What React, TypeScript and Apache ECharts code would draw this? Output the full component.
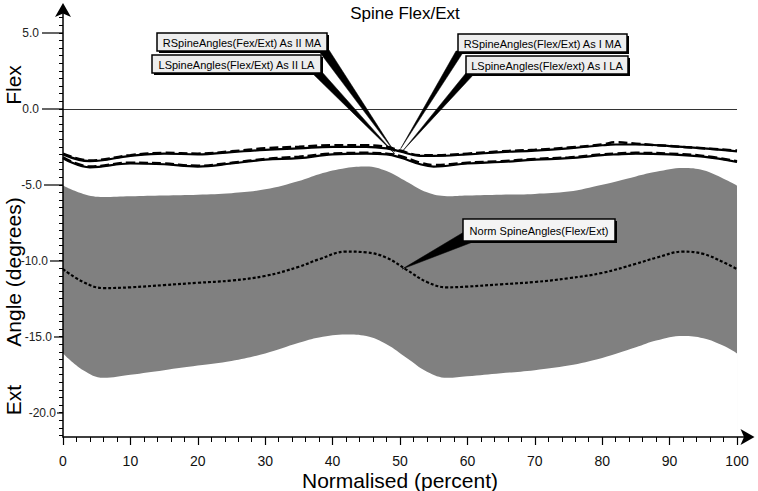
import React, { useEffect, useRef } from "react";
import * as echarts from "echarts";

// ---- Data ----
const normX = [0, 3, 6, 10, 15, 20, 25, 30, 35, 38, 42, 45, 48, 51, 54, 57, 60, 65, 70, 75, 80, 85, 88, 92, 95, 98, 100];
const normUpper = [-5.05, -5.6, -5.8, -5.75, -5.7, -5.65, -5.55, -5.3, -4.75, -4.3, -3.9, -3.8, -4.1, -4.8, -5.5, -5.75, -5.7, -5.65, -5.6, -5.45, -5.0, -4.45, -4.15, -3.9, -4.05, -4.6, -5.05];
const normLower = [-16.1, -17.2, -17.7, -17.5, -17.2, -16.9, -16.6, -16.1, -15.4, -15.05, -14.85, -14.95, -15.5, -16.4, -17.3, -17.7, -17.6, -17.4, -17.2, -16.9, -16.4, -15.7, -15.25, -14.95, -15.1, -15.6, -16.1];
const normMean = [-10.55, -11.4, -11.8, -11.75, -11.6, -11.45, -11.3, -11.0, -10.4, -9.9, -9.4, -9.45, -9.8, -10.6, -11.4, -11.75, -11.7, -11.55, -11.4, -11.15, -10.8, -10.2, -9.8, -9.4, -9.55, -10.1, -10.55];

const subjX = [0, 4, 10, 15, 20, 25, 30, 35, 40, 45, 48, 50, 53, 55, 60, 65, 70, 75, 80, 82, 85, 90, 95, 100];
const rIIMA = [-3.0, -3.45, -3.1, -2.95, -3.0, -2.85, -2.7, -2.6, -2.5, -2.5, -2.6, -2.8, -3.1, -3.1, -3.0, -2.85, -2.75, -2.6, -2.4, -2.35, -2.35, -2.45, -2.6, -2.8];
const rIMA = [-2.95, -3.4, -3.05, -2.9, -2.95, -2.8, -2.6, -2.5, -2.4, -2.4, -2.5, -2.75, -3.05, -3.05, -2.95, -2.8, -2.7, -2.55, -2.35, -2.2, -2.3, -2.45, -2.6, -2.75];
const lIILA = [-3.25, -3.85, -3.6, -3.65, -3.8, -3.6, -3.35, -3.25, -3.0, -2.95, -3.0, -3.2, -3.65, -3.8, -3.6, -3.5, -3.35, -3.25, -3.05, -3.0, -2.95, -3.0, -3.15, -3.5];
const lILA = [-3.2, -3.8, -3.55, -3.6, -3.75, -3.55, -3.3, -3.15, -2.95, -2.9, -2.95, -3.1, -3.55, -3.7, -3.55, -3.45, -3.3, -3.2, -3.0, -2.95, -2.9, -2.95, -3.1, -3.45];

const yMajorTicks = [5, 0, -5, -10, -15, -20];
const yMinorTicks = [6.5, 6, 5.5, 5, 4.5, 4, 3.5, 3, 2.5, 2, 1.5, 1, 0.5, 0, -0.5, -1, -1.5, -2, -2.5, -3, -3.5, -4, -4.5, -5, -5.5, -6, -6.5, -7, -7.5, -8, -8.5, -9, -9.5, -10, -10.5, -11, -11.5, -12, -12.5, -13, -13.5, -14, -14.5, -15, -15.5, -16, -16.5, -17, -17.5, -18, -18.5, -19, -19.5, -20, -20.5, -21, -21.5];
const xMajorTicks = [0, 10, 20, 30, 40, 50, 60, 70, 80, 90, 100];
const xMinorTicks = [0, 2, 4, 6, 8, 10, 12, 14, 16, 18, 20, 22, 24, 26, 28, 30, 32, 34, 36, 38, 40, 42, 44, 46, 48, 50, 52, 54, 56, 58, 60, 62, 64, 66, 68, 70, 72, 74, 76, 78, 80, 82, 84, 86, 88, 90, 92, 94, 96, 98, 100];

const calloutLabels = [
  "RSpineAngles(Fex/Ext) As II MA",
  "LSpineAngles(Flex/Ext) As II LA",
  "RSpineAngles(Flex/Ext) As I MA",
  "LSpineAngles(Flex/ext) As I LA",
  "Norm SpineAngles(Flex/Ext)",
];
const calloutTips: [number, number][] = [
  [49.2, -2.85],
  [49.2, -2.95],
  [50.1, -2.62],
  [50.5, -2.72],
  [50.3, -10.55],
];

const title = "Spine Flex/Ext";
const xName = "Normalised (percent)";
const yNames = ["Flex", "Angle (degrees)", "Ext"];

const FONT = '"Liberation Sans", Arial, sans-serif';
const NARROW = '"Liberation Sans Narrow", "Liberation Sans", Arial, sans-serif';

const zip = (xs: number[], ys: number[]) => xs.map((x, i) => [x, ys[i]]);

export default function App() {
  const ref = useRef<HTMLDivElement>(null);
  useEffect(() => {
    if (!ref.current) return;
    const chart = echarts.init(ref.current, null, { renderer: "svg" });
    const yMin = -21.6;
    const yMax = 6.7;
    const xMin = 0;
    const xMax = 102;

    // per-label layout: gap from axis to label right edge, and tick length
    const labelGap = [24, 24, 21, 15, 11, 7];
    const tickLen = [21, 21, 19, 13, 9, 6];

    const majorTickAxes = yMajorTicks.map((v, i) => ({
      type: "value",
      min: yMin,
      max: yMax,
      position: "left",
      splitLine: { show: false },
      axisLine: { show: false, onZero: false },
      axisTick: { show: true, length: tickLen[i], customValues: [v], lineStyle: { color: "#333", width: 1.5 } },
      axisLabel: {
        customValues: [v],
        margin: labelGap[i],
        color: "#222",
        fontSize: 12,
        fontFamily: FONT,
        formatter: (val: number) => val.toFixed(1),
      },
    }));

    const option: any = {
      animation: false,
      backgroundColor: "#ffffff",
      title: {
        text: title,
        left: 400,
        top: 0,
        textAlign: "center",
        textStyle: { fontSize: 17, fontWeight: "normal", color: "#000", fontFamily: FONT },
      },
      grid: { left: 63, top: 7, width: 687.5, height: 430, containLabel: false },
      xAxis: [
        {
          type: "value",
          min: xMin,
          max: xMax,
          z: 10,
          splitLine: { show: false },
          axisLine: {
            show: true,
            onZero: false,
            lineStyle: { color: "#000", width: 1.5 },
            symbol: ["none", "arrow"],
            symbolSize: [12, 14],
            symbolOffset: [0, 4],
          },
          axisTick: { show: true, length: 8, customValues: xMajorTicks, lineStyle: { color: "#000", width: 1.2 } },
          axisLabel: {
            customValues: xMajorTicks,
            margin: 17,
            color: "#111",
            fontSize: 14,
            fontFamily: NARROW,
          },
        },
        {
          type: "value",
          min: xMin,
          max: xMax,
          position: "bottom",
          splitLine: { show: false },
          axisLine: { show: false, onZero: false },
          axisTick: { show: true, length: 5, customValues: xMinorTicks, lineStyle: { color: "#000", width: 1 } },
          axisLabel: { show: false },
        },
      ],
      yAxis: [
        {
          type: "value",
          min: yMin,
          max: yMax,
          z: 10,
          splitLine: { show: false },
          axisLine: {
            show: true,
            onZero: false,
            lineStyle: { color: "#000", width: 1.5 },
            symbol: ["none", "arrow"],
            symbolSize: [12, 14],
            symbolOffset: [0, 4],
          },
          axisTick: { show: true, length: 4, customValues: yMinorTicks, lineStyle: { color: "#000", width: 1 } },
          axisLabel: { show: false },
        },
        ...majorTickAxes,
      ],
      series: [
        {
          type: "line",
          name: "band",
          data: zip(normX, normUpper),
          smooth: 0.4,
          symbol: "none",
          lineStyle: { width: 0, opacity: 0 },
          areaStyle: { color: "#808080", opacity: 1, origin: "start" },
          silent: true,
          z: 1,
        },
        {
          type: "line",
          name: "bandBase",
          data: zip(normX, normLower),
          smooth: 0.4,
          symbol: "none",
          lineStyle: { width: 0, opacity: 0 },
          areaStyle: { color: "#ffffff", opacity: 1, origin: "start" },
          silent: true,
          z: 1,
        },
        {
          type: "line",
          name: "Norm SpineAngles(Flex/Ext)",
          data: zip(normX, normMean),
          smooth: 0.4,
          symbol: "none",
          lineStyle: { color: "#000", width: 2.2, type: [3, 2] },
          z: 3,
        },
        {
          type: "line",
          name: calloutLabels[0],
          data: zip(subjX, rIIMA),
          smooth: 0.4,
          symbol: "none",
          lineStyle: { color: "#000", width: 2.2 },
          z: 4,
          markLine: {
            silent: true,
            symbol: ["none", "none"],
            label: { show: false },
            lineStyle: { color: "#333", width: 1, type: "solid" },
            data: [[{ coord: [0, 0] }, { coord: [100, 0] }]],
          },
        },
        {
          type: "line",
          name: calloutLabels[2],
          data: zip(subjX, rIMA),
          smooth: 0.4,
          symbol: "none",
          lineStyle: { color: "#000", width: 2.5, type: [9, 4] },
          z: 4,
        },
        {
          type: "line",
          name: calloutLabels[1],
          data: zip(subjX, lIILA),
          smooth: 0.4,
          symbol: "none",
          lineStyle: { color: "#000", width: 2.2 },
          z: 4,
        },
        {
          type: "line",
          name: calloutLabels[3],
          data: zip(subjX, lILA),
          smooth: 0.4,
          symbol: "none",
          lineStyle: { color: "#000", width: 2.5, type: [9, 4] },
          z: 4,
        },
      ],
    };
    chart.setOption(option);

    // callout boxes (layout) and wedge bases
    const boxes = [
      { x: 157, y: 33, w: 170, h: 18, base: [[318, 50], [329, 50]], fill: "#eeeeee" },
      { x: 152, y: 55, w: 169, h: 18, base: [[311, 72], [322, 72]], fill: "#eeeeee" },
      { x: 458, y: 34, w: 169, h: 18, base: [[456, 51], [464, 51]], fill: "#eeeeee" },
      { x: 466, y: 56, w: 162, h: 18, base: [[466, 73], [475, 73]], fill: "#eeeeee" },
      { x: 463, y: 219, w: 152, h: 22, base: [[464, 232], [478, 240]], fill: "#f4f4f4" },
    ];
    const graphics: any[] = [];
    boxes.forEach((b, i) => {
      const tip = chart.convertToPixel({ seriesIndex: 3 }, calloutTips[i]) as number[];
      graphics.push({
        type: "polygon",
        z: 100,
        shape: { points: [b.base[0], b.base[1], tip] },
        style: { fill: "#000", stroke: "#000", lineWidth: 0.5 },
      });
    });
    boxes.forEach((b, i) => {
      graphics.push({
        type: "rect",
        z: 101,
        shape: { x: b.x + 2, y: b.y + 2, width: b.w, height: b.h },
        style: { fill: "#000" },
      });
      graphics.push({
        type: "rect",
        z: 102,
        shape: { x: b.x, y: b.y, width: b.w, height: b.h },
        style: { fill: b.fill, stroke: "#000", lineWidth: 1.5 },
      });
      graphics.push({
        type: "text",
        z: 103,
        x: b.x + b.w / 2,
        y: b.y + b.h / 2 + 1,
        style: {
          text: calloutLabels[i],
          font: `11px ${FONT}`,
          fill: "#000",
          textAlign: "center",
          textVerticalAlign: "middle",
        },
      });
    });
    // axis names
    graphics.push({
      type: "text",
      z: 50,
      x: 400,
      y: 480,
      style: { text: xName, font: `21px ${FONT}`, fill: "#000", textAlign: "center", textVerticalAlign: "middle" },
    });
    const yNamePos = [85, 272, 400];
    yNames.forEach((t, i) => {
      graphics.push({
        type: "text",
        z: 50,
        x: 13,
        y: yNamePos[i],
        rotation: Math.PI / 2,
        style: { text: t, font: `21px ${FONT}`, fill: "#000", textAlign: "center", textVerticalAlign: "middle" },
      });
    });
    chart.setOption({ graphic: graphics });

    return () => chart.dispose();
  }, []);
  return (
    <div
      ref={ref}
      style={{ position: "fixed", left: 0, top: 0, width: 758, height: 491, background: "#fff" }}
    />
  );
}
